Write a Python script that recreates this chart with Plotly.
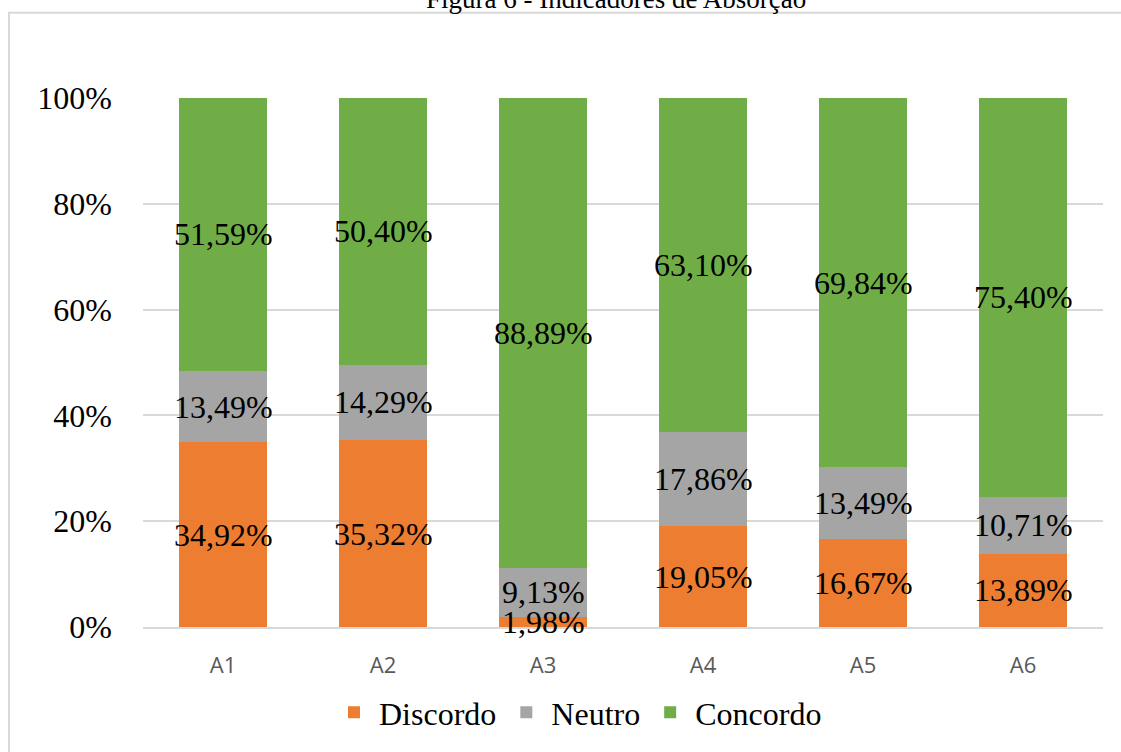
import plotly.graph_objects as go

# Category labels and the share (%) of each answer per indicator
categories = ["A1", "A2", "A3", "A4", "A5", "A6"]
discordo = [34.92, 35.32, 1.98, 19.05, 16.67, 13.89]
neutro = [13.49, 14.29, 9.13, 17.86, 13.49, 10.71]
concordo = [51.59, 50.40, 88.89, 63.10, 69.84, 75.40]

series = [
    ("Discordo", discordo, "#ED7D31"),
    ("Neutro", neutro, "#A5A5A5"),
    ("Concordo", concordo, "#70AD47"),
]

SERIF = "Liberation Serif, Times New Roman, serif"
LABEL_SIZE = 32

fig = go.Figure()
for name, vals, color in series:
    fig.add_trace(go.Bar(
        x=categories,
        y=vals,
        name=name,
        marker=dict(color=color, line=dict(width=0)),
    ))

# value labels centred on each stacked segment (they may overhang the bar)
base = [0.0] * len(categories)
for name, vals, color in series:
    for i, (cat, v) in enumerate(zip(categories, vals)):
        fig.add_annotation(
            x=cat, y=base[i] + v / 2,
            xref="x", yref="y",
            text=f"{v:.2f}%".replace(".", ","),
            showarrow=False,
            xanchor="center", yanchor="middle",
            font=dict(family=SERIF, size=LABEL_SIZE, color="black"),
        )
        base[i] += v

# plot-area geometry in pixels (used to place the frame and title)
W, H = 1121, 752
L, R, T, B = 143, 18, 98, 121
pw, ph = W - L - R, H - T - B

def px_x(x):
    return (x - L) / pw

def px_y(y):
    return (H - B - y) / ph

fig.update_layout(
    width=W,
    height=H,
    barmode="stack",
    bargap=0.45,
    margin=dict(l=L, r=R, t=T, b=B),
    paper_bgcolor="white",
    plot_bgcolor="white",
    xaxis=dict(
        showline=True,
        linecolor="#D9D9D9",
        linewidth=2,
        ticks="",
        ticklabelstandoff=18,
        tickfont=dict(family="Open Sans, sans-serif", size=22, color="#595959"),
        fixedrange=True,
    ),
    yaxis=dict(
        range=[0, 100],
        tickvals=[0, 20, 40, 60, 80, 100],
        ticktext=["0%", "20%", "40%", "60%", "80%", "100%"],
        showgrid=True,
        gridcolor="#D9D9D9",
        gridwidth=2,
        zeroline=False,
        ticks="",
        ticklabelstandoff=30,
        tickfont=dict(family=SERIF, size=LABEL_SIZE, color="black"),
        fixedrange=True,
    ),
    legend=dict(
        orientation="h",
        x=px_x(578),
        xanchor="center",
        y=px_y(717),
        yanchor="middle",
        font=dict(family=SERIF, size=LABEL_SIZE, color="black"),
        itemwidth=40,
        traceorder="normal",
    ),
    showlegend=True,
)

# outer chart frame
fig.add_shape(
    type="rect",
    xref="paper", yref="paper",
    x0=px_x(9), x1=px_x(1130),
    y0=px_y(770), y1=px_y(12),
    line=dict(color="#D9D9D9", width=2),
    fillcolor="rgba(0,0,0,0)",
    layer="below",
)

# figure caption at the very top
fig.add_annotation(
    text="Figura 6 - Indicadores de Absorção",
    xref="paper", yref="paper",
    x=px_x(616), y=px_y(-2),
    xanchor="center", yanchor="middle",
    showarrow=False,
    font=dict(family=SERIF, size=27, color="black"),
)

fig.write_html("out.html")
